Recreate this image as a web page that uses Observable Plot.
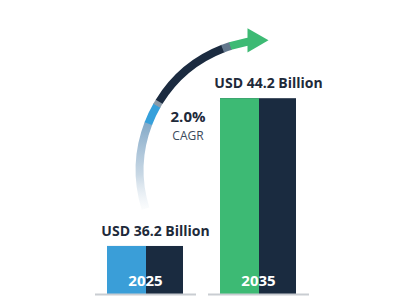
<!DOCTYPE html>
<html><head><meta charset="utf-8">
<script src="https://cdn.jsdelivr.net/npm/d3@7"></script>
<script src="https://cdn.jsdelivr.net/npm/@observablehq/plot@0.6"></script>
<style>
body{margin:0;background:#fff;}
#chart{width:420px;height:300px;}
</style>
</head><body><div id="chart"></div>
<script>
// ---- data ----
const years = ["2025", "2035"];
const values = [36.2, 44.2];
const valueLabels = ["USD 36.2 Billion", "USD 44.2 Billion"];
const cagrValue = ["2.0%"];
const cagrText = ["CAGR"];
const leftColors = ["#3a9ed8", "#3dba74"];

const yBase = 33.6; // visible baseline of the (truncated) value axis
const data = years.map((year, i) => ({year, value: values[i], label: valueLabels[i], left: leftColors[i]}));

const navy = "#1a2b40";
const font = "Open Sans, Noto Sans, sans-serif";

// arc segments (fraction of arc length)
const segs = [
  {from: 0.0,   to: 0.373, color: "url(#arcFade)"},
  {from: 0.373, to: 0.458, color: "#36a0db"},
  {from: 0.458, to: 0.478, color: "#8b9aa8"},
  {from: 0.478, to: 0.840, color: "#1b2b40"},
  {from: 0.840, to: 0.875, color: "#62778c"},
  {from: 0.875, to: 1.0,   color: "#3dba74"}
];

const arcOpts = {
  x1: () => "2025", y1: () => 38.25,
  x2: () => "2035", y2: () => 47.36,
  bend: 51, headLength: 0, strokeWidth: 8, strokeLinecap: "butt"
};

const svg = Plot.plot({
  width: 420, height: 300,
  marginLeft: 107, marginRight: 124, marginTop: 28, marginBottom: 6,
  style: {fontFamily: font, background: "#fff"},
  x: {domain: years, paddingInner: 0.33, paddingOuter: 0, axis: null},
  y: {domain: [yBase, 48], axis: null},
  marks: [
    Plot.barY(data, {x: "year", y1: yBase, y2: "value", fill: navy}),
    Plot.barY(data, {x: "year", y1: yBase, y2: "value", fill: "left", insetRight: 37}),
    Plot.tickY(data, {x: "year", y: () => yBase, stroke: "#c9cdd2", strokeWidth: 2, insetLeft: -12, insetRight: -13}),
    Plot.text(data, {x: "year", y: () => yBase, text: "year", dy: -13.5, fill: "#fff", fontSize: 15, fontWeight: 700}),
    Plot.text(data, {x: "year", y: "value", text: "label", dy: -15, dx: 10, fill: "#1e2a3a", fontSize: 14, fontWeight: 700}),
    ...segs.map((s, i) => Plot.arrow([0], {...arcOpts, stroke: s.color, ariaDescription: "arcseg" + i})),
    Plot.dot([0], {x: () => "2035", y: () => 47.36, dx: -4, symbol: "triangle", r: 9, rotate: 90, fill: "#3dba74", stroke: "none"}),
    Plot.text(cagrValue, {x: () => "2025", y: () => 43.14, dx: 42.5, dy: -1, text: d => d, fill: "#1e2a3a", fontSize: 15, fontWeight: 700}),
    Plot.text(cagrText, {x: () => "2025", y: () => 42.28, dx: 42.5, dy: 1.5, text: d => d, fill: "#3b4a5c", fontSize: 12})
  ]
});

document.getElementById("chart").appendChild(svg);

// gradient for the fading tail of the arc
const defs = d3.select(svg).insert("defs", ":first-child");
const g = defs.append("linearGradient").attr("id", "arcFade")
  .attr("x1", 0).attr("y1", 1).attr("x2", 0).attr("y2", 0);
g.append("stop").attr("offset", 0).attr("stop-color", "#dfe8f0").attr("stop-opacity", 0.15);
g.append("stop").attr("offset", 0.2).attr("stop-color", "#bfd1e0").attr("stop-opacity", 0.85);
g.append("stop").attr("offset", 0.5).attr("stop-color", "#86abc9").attr("stop-opacity", 1);

// split the arc into coloured pieces using dash patterns
segs.forEach((s, i) => {
  svg.querySelectorAll(`g[aria-description="arcseg${i}"] path`).forEach(p => {
    const L = p.getTotalLength();
    const a = s.from * L, b = Math.min(L, s.to * L + 0.6);
    p.setAttribute("stroke-dasharray", `0 ${a} ${b - a} ${L * 2}`);
  });
});
</script>
</body></html>
